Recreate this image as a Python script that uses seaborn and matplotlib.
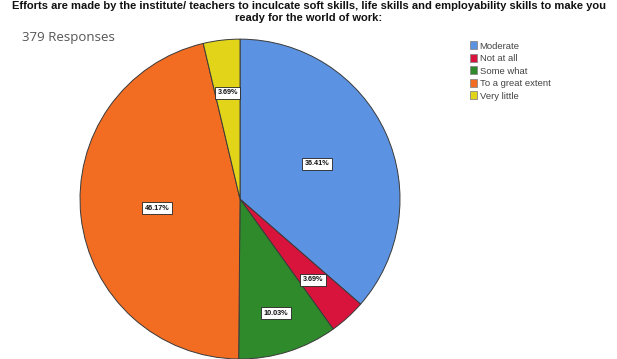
import matplotlib
matplotlib.use("Agg")
import matplotlib.pyplot as plt
import numpy as np
import seaborn as sns
from matplotlib.patches import Patch

# Survey responses (n = 379)
categories = ["Moderate", "Not at all", "Some what", "To a great extent", "Very little"]
percentages = [36.41, 3.69, 10.03, 46.17, 3.69]
colors = ["#5b93e2", "#d9143c", "#2f8a2c", "#f26c22", "#e2d418"]
# radial placement of each percentage label, as a fraction of the radius
label_radius = [0.53, 0.68, 0.75, 0.52, 0.67]

title = ("Efforts are made by the institute/ teachers to inculcate soft skills, life skills and "
         "employability skills to make you\nready for the world of work:")
subtitle = "379 Responses"

sns.set_theme(style="white")
plt.rcParams["font.family"] = ["Liberation Sans", "DejaVu Sans"]

fig = plt.figure(figsize=(6.17, 3.59), dpi=100)
fig.patch.set_facecolor("white")

ax = fig.add_axes([0.1297, 0.0, 0.5186, 0.891])
wedges, _ = ax.pie(
    percentages,
    colors=colors,
    startangle=90,
    counterclock=False,
    radius=1.0,
    wedgeprops=dict(edgecolor="#3a3a3a", linewidth=0.7),
)
ax.set_xlim(-1, 1)
ax.set_ylim(-1, 1)
ax.set_aspect("auto")
for w in wedges:
    w.set_clip_on(False)

for w, pct, r in zip(wedges, percentages, label_radius):
    ang = np.deg2rad((w.theta1 + w.theta2) / 2)
    ax.text(r * np.cos(ang), r * np.sin(ang), f"{pct:.2f}%",
            ha="center", va="center", fontsize=5.2, fontweight="bold", color="#111111",
            bbox=dict(boxstyle="square,pad=0.35", facecolor="white",
                      edgecolor="#222222", linewidth=0.6))

fig.text(0.5, 0.997, title, ha="center", va="top", fontsize=8.0,
         fontweight="bold", color="#111111", linespacing=1.3,
         family=["Liberation Sans", "DejaVu Sans"])
fig.text(0.036, 0.895, subtitle, ha="left", va="center", fontsize=9.5,
         color="#555555", family=["Open Sans", "DejaVu Sans"])

handles = [Patch(facecolor=c, edgecolor="#888888", linewidth=0.6, label=l)
           for c, l in zip(colors, categories)]
leg = fig.legend(handles=handles, loc="upper left", bbox_to_anchor=(0.755, 0.895),
                 frameon=False, fontsize=6.8, handlelength=0.75, handleheight=0.9,
                 handletextpad=0.3, labelspacing=0.35, borderaxespad=0.0)
for t in leg.get_texts():
    t.set_color("#444444")

fig.savefig("out.png", dpi=100, facecolor="white")
